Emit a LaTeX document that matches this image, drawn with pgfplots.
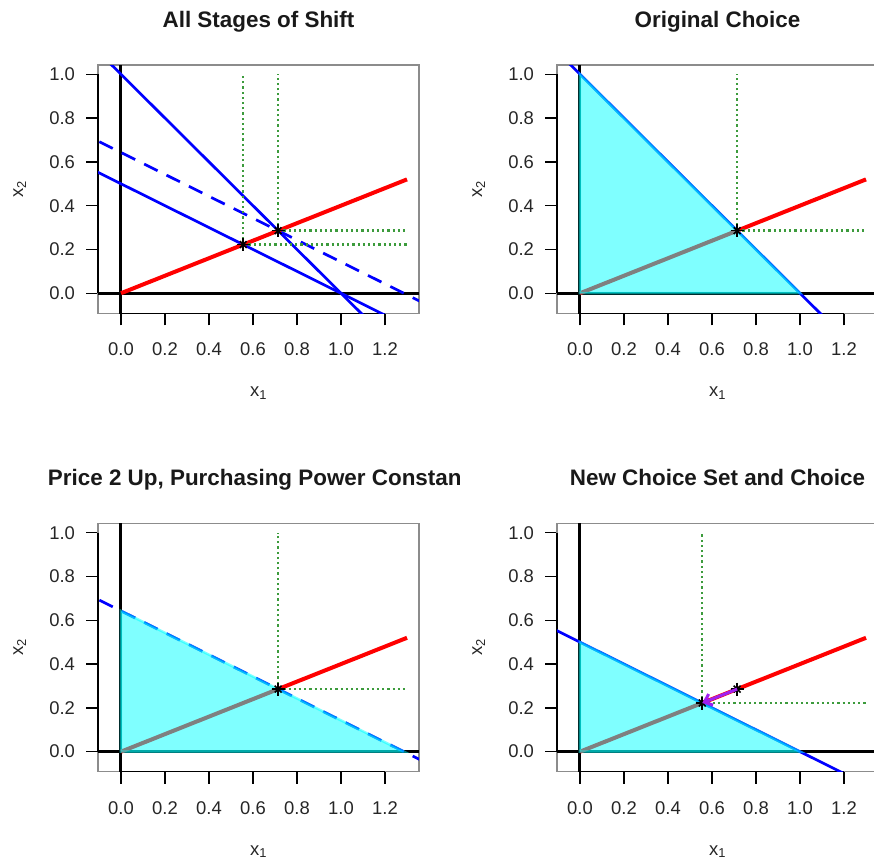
\documentclass[border=0pt]{standalone}
\usepackage{pgfplots}
\pgfplotsset{compat=1.18}
\usepackage{fontspec}
\setmainfont{Liberation Sans}
\usetikzlibrary{arrows.meta}
\definecolor{dgreen}{RGB}{60,155,60}
\definecolor{rpurple}{RGB}{160,32,240}
\definecolor{rcyan}{RGB}{0,255,255}
\definecolor{rblue}{RGB}{0,0,255}
\definecolor{rred}{RGB}{255,0,0}

\pgfplotsset{
  econ/.style={
    scale only axis, width=320.8bp, height=248.3bp,
    anchor=south west,
    xmin=-0.104, xmax=1.354, ymin=-0.092, ymax=1.042,
    xtick={0,0.2,0.4,0.6,0.8,1.0,1.2}, ytick={0,0.2,0.4,0.6,0.8,1.0},
    xtick pos=bottom, ytick pos=left, tick align=outside,
    major tick length=12bp,
    every tick/.style={black, line width=1.3bp},
    axis line style={black!45, line width=1.3bp},
    tick label style={font=\fontsize{18.5}{22}\selectfont, text=black!85},
    xticklabel={\pgfmathprintnumber[fixed,fixed zerofill,precision=1,assume math mode=true]{\tick}},
    yticklabel={\pgfmathprintnumber[fixed,fixed zerofill,precision=1,assume math mode=true]{\tick}},
    xticklabel style={anchor=base, yshift=-30.6bp},
    yticklabel style={anchor=east, inner sep=0pt, xshift=-11bp},
    clip mode=individual,
  },
  axlines/.style={black, line width=3bp},
  budget/.style={rblue, line width=2.7bp},
  engel/.style={rred, line width=4bp},
  guide/.style={dgreen, line width=2.4bp, dash pattern=on 2.2bp off 3bp},
  cset/.style={fill=rcyan, draw=rcyan, fill opacity=0.5, draw opacity=0.5, line width=2.5bp},
}
\newcommand{\boxaxes}{%
  \draw[black, line width=1.3bp] (axis cs:0,-0.092) -- (axis cs:1.2,-0.092);
  \draw[black, line width=1.3bp] (axis cs:-0.104,0) -- (axis cs:-0.104,1);
}
\newcommand{\starmarks}[1]{%
  \addplot[only marks, mark=+, mark size=6.5bp, mark options={black, line width=1.6bp}] coordinates {#1};
  \addplot[only marks, mark=x, mark size=4.8bp, mark options={black, line width=1.6bp}] coordinates {#1};
}

\begin{document}
\begin{tikzpicture}
\tikzset{ttl/.style={font=\bfseries\fontsize{22.5}{26}\selectfont, anchor=base, text=black!90},
         lab/.style={font=\fontsize{18.5}{22}\selectfont, anchor=base, text=black!85}}

% ---------- Panel 1 ----------
\begin{axis}[econ, at={(98.1bp,547.6bp)}]
\boxaxes
\addplot[axlines] coordinates {(-0.3,0) (1.6,0)};
\addplot[axlines] coordinates {(0,-0.3) (0,1.3)};
\addplot[budget] coordinates {(-0.1,1.1) (1.1,-0.1)};
\addplot[budget, dash pattern=on 15bp off 10bp] coordinates {(-0.2,0.74285) (1.45,-0.08215)};
\addplot[budget] coordinates {(-0.2,0.6) (1.2,-0.1)};
\addplot[engel] coordinates {(0,0) (1.3,0.52)};
\addplot[guide] coordinates {(0.7143,0.2857) (0.7143,1.0)};
\addplot[guide] coordinates {(0.7143,0.2857) (1.3,0.2857)};
\addplot[guide] coordinates {(0.5556,0.2222) (0.5556,1.0)};
\addplot[guide] coordinates {(0.5556,0.2222) (1.3,0.2222)};
\starmarks{(0.7143,0.2857) (0.5556,0.2222)}
\end{axis}

% ---------- Panel 2 ----------
\begin{axis}[econ, at={(557.1bp,547.6bp)}]
\boxaxes
\addplot[axlines] coordinates {(-0.3,0) (1.6,0)};
\addplot[axlines] coordinates {(0,-0.3) (0,1.3)};
\addplot[budget] coordinates {(-0.1,1.1) (1.1,-0.1)};
\addplot[engel] coordinates {(0,0) (1.3,0.52)};
\addplot[cset] coordinates {(0,0) (0,1) (1,0)} -- cycle;
\addplot[guide] coordinates {(0.7143,0.2857) (0.7143,1.0)};
\addplot[guide] coordinates {(0.7143,0.2857) (1.3,0.2857)};
\starmarks{(0.7143,0.2857)}
\end{axis}

% ---------- Panel 3 ----------
\begin{axis}[econ, at={(98.1bp,89.2bp)}]
\boxaxes
\addplot[axlines] coordinates {(-0.3,0) (1.6,0)};
\addplot[axlines] coordinates {(0,-0.3) (0,1.3)};
\addplot[budget, dash pattern=on 15bp off 10bp] coordinates {(-0.2,0.74285) (1.45,-0.08215)};
\addplot[engel] coordinates {(0,0) (1.3,0.52)};
\addplot[cset] coordinates {(0,0) (0,0.64285) (1.2857,0)} -- cycle;
\addplot[guide] coordinates {(0.7143,0.2857) (0.7143,1.0)};
\addplot[guide] coordinates {(0.7143,0.2857) (1.3,0.2857)};
\starmarks{(0.7143,0.2857)}
\end{axis}

% ---------- Panel 4 ----------
\begin{axis}[econ, at={(557.1bp,89.2bp)}]
\boxaxes
\addplot[axlines] coordinates {(-0.3,0) (1.6,0)};
\addplot[axlines] coordinates {(0,-0.3) (0,1.3)};
\addplot[budget] coordinates {(-0.2,0.6) (1.2,-0.1)};
\addplot[engel] coordinates {(0,0) (1.3,0.52)};
\addplot[cset] coordinates {(0,0) (0,0.5) (1,0)} -- cycle;
\addplot[guide] coordinates {(0.5556,0.2222) (0.5556,1.0)};
\addplot[guide] coordinates {(0.5556,0.2222) (1.3,0.2222)};
\starmarks{(0.7143,0.2857) (0.5556,0.2222)}
\addplot[rpurple, line width=3bp, -{Straight Barb[length=7bp,width=12bp]}] coordinates {(0.7143,0.2857) (0.5556,0.2222)};
\end{axis}

% ---------- titles and labels ----------
\node[ttl] at (258.5bp,833bp) {All Stages of Shift};
\node[ttl] at (717.5bp,833bp) {Original Choice};
\node[ttl] at (717.5bp,375bp) {New Choice Set and Choice};
\begin{scope}
\clip (0bp,300bp) rectangle (459bp,420bp);
\node[ttl] at (258.5bp,375bp) {Price 2 Up, Purchasing Power Constant};
\end{scope}

\node[lab] at (258.5bp,464bp) {x\textsubscript{1}};
\node[lab] at (717.5bp,464bp) {x\textsubscript{1}};
\node[lab] at (258.5bp,6bp) {x\textsubscript{1}};
\node[lab] at (717.5bp,6bp) {x\textsubscript{1}};
\node[lab, rotate=90] at (23bp,672bp) {x\textsubscript{2}};
\node[lab, rotate=90] at (482bp,672bp) {x\textsubscript{2}};
\node[lab, rotate=90] at (23bp,213.6bp) {x\textsubscript{2}};
\node[lab, rotate=90] at (482bp,213.6bp) {x\textsubscript{2}};

\pgfresetboundingbox
\useasboundingbox (0bp,0bp) rectangle (874bp,861bp);
\end{tikzpicture}
\end{document}
